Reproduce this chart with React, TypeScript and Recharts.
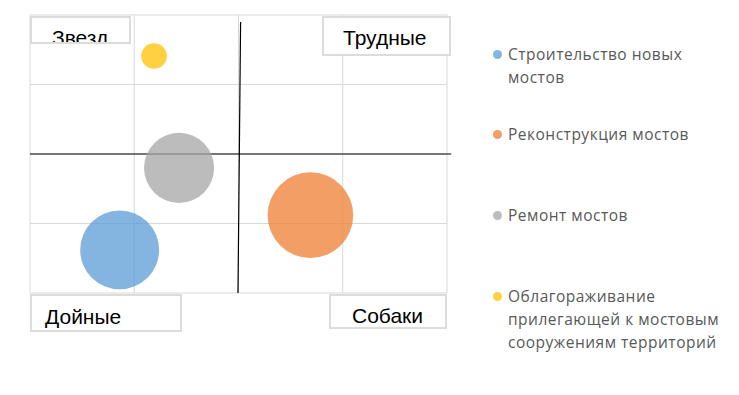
import React from 'react';
import { ScatterChart, Scatter, XAxis, YAxis, ZAxis, CartesianGrid, ReferenceLine } from 'recharts';

const seriesNames = [
  'Строительство новых мостов',
  'Реконструкция мостов',
  'Ремонт мостов',
  'Облагораживание прилегающей к мостовым сооружениям территорий',
];
const xValues = [0.86, 2.69, 1.43, 1.19];
const yValues = [0.62, 1.12, 1.8, 3.41];
const zValues = [85, 100, 67, 9];
const colors = ['#5B9BD5', '#ED7D31', '#A5A5A5', '#FFC000'];

const quadrantLabels = ['Звезд', 'Трудные', 'Дойные', 'Собаки'];
const axisTicks = [0, 1, 2, 3, 4];

const W = 739;
const H = 395;

const boxes = [
  { left: 30, top: 16, width: 101, height: 28, textLeft: 52, baseline: 45 },
  { left: 322, top: 16, width: 129, height: 40, textLeft: 343, baseline: 45 },
  { left: 30, top: 294, width: 152, height: 38, textLeft: 45, baseline: 324 },
  { left: 329, top: 294, width: 118, height: 35, textLeft: 352, baseline: 323 },
];

const legendTops = [42.5, 122.5, 203.5, 284.5];

export default function App() {
  return (
    <div style={{ position: 'absolute', left: 0, top: 0, width: W, height: H, background: '#fff', fontFamily: '"Liberation Sans", Arial, sans-serif' }}>
      <ScatterChart width={W} height={H} margin={{ top: 15, left: 30, right: 292, bottom: 102 }}>
        <CartesianGrid stroke="#d9d9d9" strokeWidth={1} />
        <XAxis type="number" dataKey="x" domain={[0, 4]} ticks={axisTicks} hide />
        <YAxis type="number" dataKey="y" domain={[0, 4]} ticks={axisTicks} hide />
        <ZAxis type="number" dataKey="z" domain={[0, 100]} range={[0, 5755]} />
        <ReferenceLine
          segment={[{ x: 0, y: 2 }, { x: 4.04, y: 2 }]}
          stroke="#000"
          strokeWidth={1.2}
          ifOverflow="visible"
        />
        <ReferenceLine
          segment={[{ x: 2.02, y: 3.9 }, { x: 1.995, y: 0 }]}
          stroke="#000"
          strokeWidth={1.2}
          ifOverflow="visible"
        />
        {seriesNames.map((name, i) => (
          <Scatter
            key={name}
            name={name}
            data={[{ x: xValues[i], y: yValues[i], z: zValues[i] }]}
            fill={colors[i]}
            fillOpacity={0.75}
            isAnimationActive={false}
          />
        ))}
      </ScatterChart>
      {boxes.map((b, i) => (
        <div
          key={quadrantLabels[i]}
          style={{
            position: 'absolute',
            left: b.left,
            top: b.top,
            width: b.width,
            height: b.height,
            boxSizing: 'border-box',
            border: '2px solid #dcdcdc',
            background: '#fff',
            overflow: 'hidden',
          }}
        >
          <span
            style={{
              position: 'absolute',
              left: b.textLeft - b.left - 2,
              top: b.baseline - 17.8 - b.top - 2,
              fontSize: 21,
              lineHeight: '21px',
              color: '#000',
              whiteSpace: 'nowrap',
            }}
          >
            {quadrantLabels[i]}
          </span>
        </div>
      ))}
      {seriesNames.map((name, i) => (
        <div
          key={name}
          style={{ position: 'absolute', left: 493, top: legendTops[i], width: 240 }}
        >
          <div
            style={{
              position: 'absolute',
              left: 0,
              top: 7,
              width: 9,
              height: 9,
              borderRadius: '50%',
              background: colors[i],
              opacity: 0.75,
            }}
          />
          <div style={{ marginLeft: 15, fontFamily: '"Open Sans", sans-serif', fontSize: 15.5, letterSpacing: 0.5, lineHeight: '23px', color: '#595959', width: 218 }}>
            {name}
          </div>
        </div>
      ))}
    </div>
  );
}
